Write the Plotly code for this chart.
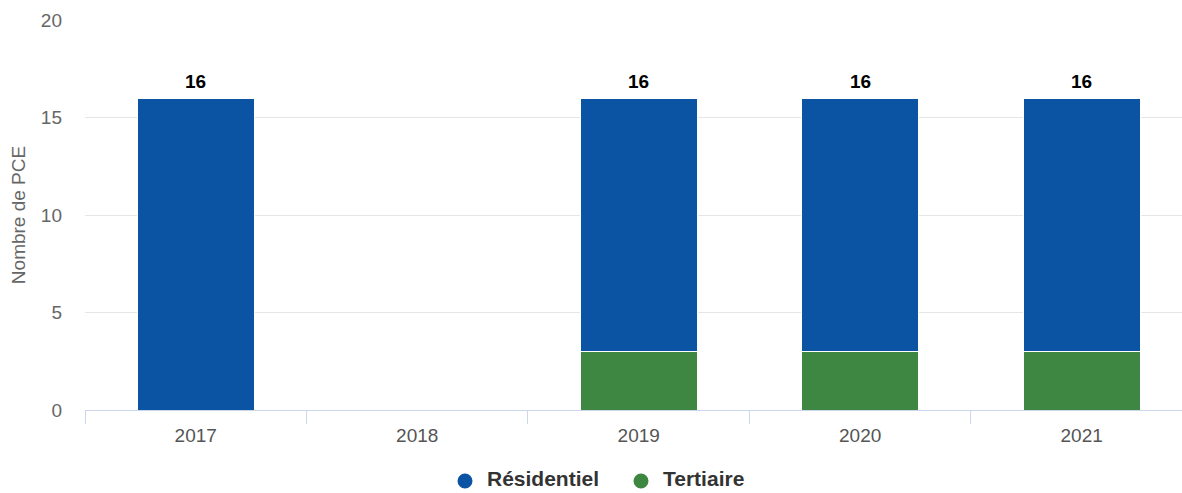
import plotly.graph_objects as go

years = ["2017", "2018", "2019", "2020", "2021"]
residentiel = [16, None, 13, 13, 13]
tertiaire = [None, None, 3, 3, 3]
totals = [16, None, 16, 16, 16]
series_names = ["Résidentiel", "Tertiaire"]

blue = "#0a54a3"
green = "#3e8743"
FONT = "Liberation Sans"

fig = go.Figure()
fig.add_trace(go.Bar(x=years, y=tertiaire, name="Tertiaire",
                     marker=dict(color=green, line=dict(color="white", width=1)), showlegend=False))
fig.add_trace(go.Bar(x=years, y=residentiel, name="Résidentiel",
                     marker=dict(color=blue, line=dict(color="white", width=1)), showlegend=False))

for i, t in enumerate(totals):
    if t is not None:
        fig.add_annotation(x=i, y=t, xref="x", yref="y", text="<b>%d</b>" % t, showarrow=False,
                           yanchor="bottom", yshift=4,
                           font=dict(family=FONT, size=19, color="#000000"))

# legend (drawn as shapes + text so it can sit at the very bottom)
PL, PW, PT, PH = 85, 1097, 20, 390
def px_x(X):
    return (X - PL) / PW
def px_y(Y):
    return (PT + PH - Y) / PH

circle_y = 481
for name, col, cx in [(series_names[0], blue, 465), (series_names[1], green, 641)]:
    fig.add_shape(type="circle", xref="paper", yref="paper", xsizemode="pixel", ysizemode="pixel",
                  xanchor=px_x(cx), yanchor=px_y(circle_y), x0=-7.5, x1=7.5, y0=-7.5, y1=7.5,
                  fillcolor=col, line=dict(width=0))
    fig.add_annotation(xref="paper", yref="paper", x=px_x(cx + 20), y=px_y(492.5),
                       xanchor="left", yanchor="bottom", showarrow=False, text="<b>%s</b>" % name,
                       font=dict(family=FONT, size=21, color="#333333"))

fig.update_layout(
    width=1182, height=493,
    barmode="stack", bargap=0.472,
    plot_bgcolor="white", paper_bgcolor="white",
    margin=dict(l=85, r=0, t=20, b=83),
    font=dict(family=FONT, color="#666666", size=19),
    showlegend=False,
    xaxis=dict(type="category", range=[-0.5, 4.453], showgrid=False,
               showline=True, linecolor="#ccd6eb", linewidth=1,
               ticks="outside", tickson="boundaries", ticklen=13, tickcolor="#ccd6eb",
               tickfont=dict(size=19, color="#555555"), ticklabelstandoff=8),
    yaxis=dict(range=[0, 20], dtick=5, showgrid=True, gridcolor="#e6e6e6", zeroline=False,
               showline=False, tickfont=dict(size=19, color="#666666"), ticklabelstandoff=22,
               title=dict(text="Nombre de PCE", font=dict(size=19, color="#666666"), standoff=10)),
)
fig.write_html("out.html")
